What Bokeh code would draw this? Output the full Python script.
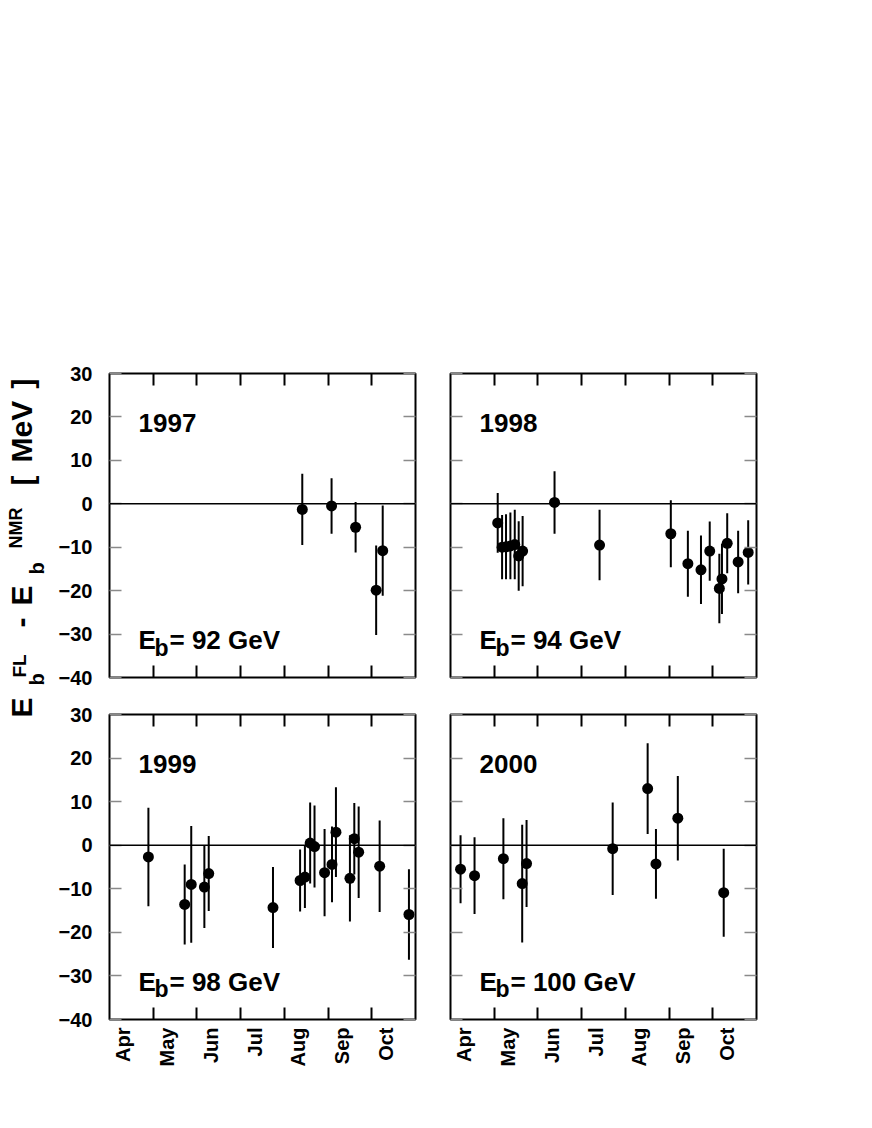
import math
from bokeh.plotting import figure
from bokeh.models import (Range1d, FixedTicker, LinearAxis, Span, Label,
                          ColumnDataSource, Spacer)
from bokeh.layouts import row, column
from bokeh.embed import file_html
from bokeh.resources import INLINE

FONT = "Liberation Sans"

# ---------------- data ----------------
month_names = ["Apr", "May", "Jun", "Jul", "Aug", "Sep", "Oct"]
month_label_pos = [4.32, 5.32, 6.32, 7.32, 8.32, 9.32, 10.32]
month_bounds = [5, 6, 7, 8, 9, 10]
y_ticks = [-40, -30, -20, -10, 0, 10, 20, 30]

years = ["1997", "1998", "1999", "2000"]
beam_energies = ["92 GeV", "94 GeV", "98 GeV", "100 GeV"]

# x: month (4 = 1 April), y: E_FL - E_NMR [MeV], e: error [MeV]
x_1997 = [8.41, 9.08, 9.63, 10.10, 10.25]
y_1997 = [-1.3, -0.5, -5.4, -19.9, -10.8]
e_1997 = [8.2, 6.4, 5.8, 10.3, 10.4]

x_1998 = [5.08, 5.18, 5.27, 5.37, 5.47, 5.56, 5.65, 6.38, 7.41,
          9.04, 9.43, 9.73, 9.93, 10.15, 10.21, 10.33, 10.58, 10.81]
y_1998 = [-4.4, -10.0, -9.9, -9.7, -9.4, -12.0, -10.9, 0.3, -9.5,
          -6.9, -13.8, -15.2, -10.9, -19.5, -17.3, -9.1, -13.4, -11.2]
e_1998 = [6.9, 7.4, 7.5, 7.7, 8.0, 8.0, 8.1, 7.2, 8.1,
          7.7, 7.6, 7.9, 6.8, 8.0, 8.1, 6.9, 7.2, 7.4]

x_1999 = [4.89, 5.72, 5.87, 6.17, 6.27, 7.74, 8.36, 8.47, 8.59,
          8.69, 8.92, 9.09, 9.18, 9.50, 9.60, 9.70, 10.18, 10.85]
y_1999 = [-2.7, -13.6, -9.0, -9.6, -6.5, -14.3, -8.1, -7.3, 0.5,
          -0.3, -6.3, -4.4, 3.0, -7.6, 1.5, -1.6, -4.8, -15.9]
e_1999 = [11.3, 9.2, 13.4, 9.4, 8.6, 9.3, 7.1, 7.1, 9.3,
          9.4, 10.0, 8.7, 10.3, 9.9, 8.2, 10.5, 10.5, 10.4]

x_2000 = [4.23, 4.55, 5.21, 5.64, 5.74, 7.71, 8.51, 8.70, 9.20, 10.25]
y_2000 = [-5.5, -7.0, -3.1, -8.8, -4.2, -0.8, 13.0, -4.3, 6.2, -10.9]
e_2000 = [7.8, 8.8, 9.3, 13.5, 10.0, 10.6, 10.4, 8.0, 9.7, 10.1]

series = [(x_1997, y_1997, e_1997), (x_1998, y_1998, e_1998),
          (x_1999, y_1999, e_1999), (x_2000, y_2000, e_2000)]


def hidden_labels(ax, ticks):
    ax.major_label_overrides = {t: "" for t in ticks}
    ax.major_label_text_font_size = "0px"
    ax.major_label_text_color = None
    ax.major_label_standoff = 0


def make_panel(idx, show_x_labels, show_y_labels, width, height,
               mbl, mbr, mbt, mbb):
    xs, ys, es = series[idx]
    p = figure(width=width, height=height, x_range=Range1d(4, 11),
               y_range=Range1d(-40, 30), toolbar_location=None,
               output_backend="svg", x_axis_location=None,
               y_axis_location=None, title=None,
               min_border_left=mbl, min_border_right=mbr,
               min_border_top=mbt, min_border_bottom=mbb)
    p.grid.visible = False
    p.outline_line_color = "black"
    p.outline_line_width = 2
    p.background_fill_color = "white"
    p.border_fill_color = "white"

    # x axes (ticks at month boundaries via minor ticks, labels mid-month)
    for loc in ["below", "above"]:
        xt = FixedTicker(ticks=month_label_pos, minor_ticks=month_bounds)
        ax = LinearAxis(ticker=xt, major_tick_in=0, major_tick_out=0,
                        minor_tick_in=12, minor_tick_out=0,
                        minor_tick_line_color="black",
                        minor_tick_line_width=2, axis_line_color=None)
        if loc == "below" and show_x_labels:
            ax.major_label_overrides = dict(zip(month_label_pos, month_names))
            ax.major_label_orientation = math.pi / 2
            ax.major_label_text_font = FONT
            ax.major_label_text_font_style = "bold"
            ax.major_label_text_font_size = "20px"
            ax.major_label_text_color = "black"
            ax.major_label_standoff = 8
        else:
            hidden_labels(ax, month_label_pos)
        p.add_layout(ax, loc)

    # y axes
    for loc in ["left", "right"]:
        yt = FixedTicker(ticks=y_ticks)
        ax = LinearAxis(ticker=yt, major_tick_in=12, major_tick_out=0,
                        major_tick_line_color="#8a8a8a",
                        major_tick_line_width=1.5,
                        minor_tick_line_color=None, axis_line_color=None)
        if loc == "left" and show_y_labels:
            ax.major_label_text_font = FONT
            ax.major_label_text_font_style = "bold"
            ax.major_label_text_font_size = "20px"
            ax.major_label_text_color = "black"
            ax.major_label_standoff = 17
        else:
            hidden_labels(ax, y_ticks)
        p.add_layout(ax, loc)

    p.add_layout(Span(location=0, dimension="width", line_color="black",
                      line_width=1.5))

    src = ColumnDataSource(dict(
        x=xs, y=ys,
        lo=[y - e for y, e in zip(ys, es)],
        hi=[y + e for y, e in zip(ys, es)]))
    p.segment(x0="x", y0="lo", x1="x", y1="hi", source=src,
              line_color="black", line_width=2)
    p.scatter("x", "y", source=src, size=11, fill_color="black",
              line_color="black", line_width=0)

    common = dict(text_font=FONT, text_font_style="bold",
                  text_color="black", text_baseline="alphabetic")
    p.add_layout(Label(x=4, y=18.7, x_offset=29, text=years[idx],
                       text_font_size="26px", **common))
    p.add_layout(Label(x=4, y=-31.4, x_offset=29, text="E",
                       text_font_size="26px", **common))
    p.add_layout(Label(x=4, y=-33.1, x_offset=45, text="b",
                       text_font_size="23px", **common))
    p.add_layout(Label(x=4, y=-31.4, x_offset=60,
                       text="= " + beam_energies[idx],
                       text_font_size="26px", **common))
    return p


TOP_SPACE = 363
LAB_W = 51
p1 = make_panel(0, False, True, 109 - LAB_W + 306 + 5, 341,
                109 - LAB_W, 5, 10, 27)
p2 = make_panel(1, False, False, 346, 341, 30, 10, 10, 27)
p3 = make_panel(2, True, True, 109 - LAB_W + 306 + 5, 395,
                109 - LAB_W, 5, 10, 80)
p4 = make_panel(3, True, False, 346, 395, 30, 10, 10, 80)

# ---------------- rotated y-axis title ----------------
total_h = TOP_SPACE + 341 + 395
lab = figure(width=LAB_W, height=total_h, x_range=Range1d(0, LAB_W),
             y_range=Range1d(total_h, 0), toolbar_location=None,
             output_backend="svg", x_axis_location=None,
             y_axis_location=None, title=None, min_border=0)
lab.grid.visible = False
lab.outline_line_color = None

rot = dict(text_font=FONT, text_font_style="bold", text_color="black",
           text_baseline="alphabetic", angle=math.pi / 2)
pieces = [
    ("E", 20.5, 717, "30px", "left"),
    ("b", 36, 685, "20px", "left"),
    ("FL", 19, 677, "19px", "left"),
    ("-", 20, 622, "30px", "center"),
    ("E", 20.5, 605, "30px", "left"),
    ("b", 36, 574, "20px", "left"),
    ("NMR", 15, 548, "18px", "left"),
    ("[", 22, 485, "30px", "left"),
    ("MeV", 21, 462, "30px", "left"),
    ("]", 22, 388, "30px", "left"),
]
for txt, px, py, fs, al in pieces:
    lab.add_layout(Label(x=px, y=py, text=txt, text_font_size=fs,
                         text_align=al, **rot))

grid = column(Spacer(width=p1.width + p2.width, height=TOP_SPACE),
              row(p1, p2), row(p3, p4))
layout = row(lab, grid)

open("out.html", "w").write(file_html(layout, INLINE))
